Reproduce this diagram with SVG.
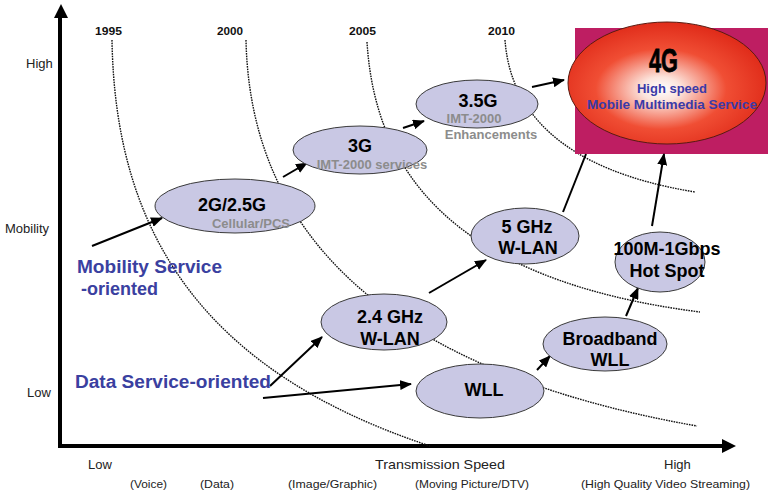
<svg xmlns="http://www.w3.org/2000/svg" width="770" height="494" viewBox="0 0 770 494">
<style>
.curve{fill:none;stroke:#111;stroke-width:1.4;stroke-dasharray:1.6 1}
.conn{fill:none;stroke:#000;stroke-width:2}
.node{fill:#c9c8e4;stroke:#3a3a3a;stroke-width:1}
.nt{font-family:"Liberation Sans",Arial,sans-serif;font-weight:bold;font-size:18px;fill:#000;text-anchor:middle}
.sub{font-family:"Liberation Sans",Arial,sans-serif;font-weight:bold;font-size:13px;fill:#8c8c8c;text-anchor:middle}
.blue{font-family:"Liberation Sans",Arial,sans-serif;font-weight:bold;font-size:18px;fill:#3a40a0}
.ax{font-family:"Liberation Sans",Arial,sans-serif;font-size:13px;fill:#222}
.yr{font-family:"Liberation Sans",Arial,sans-serif;font-weight:bold;font-size:11px;fill:#111}
.sm{font-family:"Liberation Sans",Arial,sans-serif;font-size:11px;fill:#222}
</style>
<defs>
<marker id="ah" markerUnits="userSpaceOnUse" markerWidth="12" markerHeight="10" refX="11" refY="5" orient="auto">
<path d="M0,0 L12,5 L0,10 z" fill="#000"/>
</marker>
<radialGradient id="red" cx="0.47" cy="0.55" r="0.55">
<stop offset="0" stop-color="#ffffff"/>
<stop offset="0.18" stop-color="#fce4dc"/>
<stop offset="0.6" stop-color="#f04e34"/>
<stop offset="1" stop-color="#e02c1a"/>
</radialGradient>
</defs>
<rect width="770" height="494" fill="#fff"/>

<g id="axes">
<line x1="60" y1="448" x2="60" y2="15" stroke="#000" stroke-width="4"/>
<polygon points="61,4 54,18 68,18" fill="#000"/>
<line x1="58" y1="446" x2="724" y2="446" stroke="#000" stroke-width="4"/>
<polygon points="736,446 722,439 722,453" fill="#000"/>
<text class="ax" x="26" y="68">High</text>
<text class="ax" x="5" y="233">Mobility</text>
<text class="ax" x="27" y="397">Low</text>
<text class="ax" x="88" y="469">Low</text>
<text class="ax" x="375" y="469" textLength="130" lengthAdjust="spacingAndGlyphs">Transmission Speed</text>
<text class="ax" x="664" y="469">High</text>
<text class="sm" x="130" y="488" textLength="37" lengthAdjust="spacingAndGlyphs">(Voice)</text>
<text class="sm" x="200" y="488" textLength="34" lengthAdjust="spacingAndGlyphs">(Data)</text>
<text class="sm" x="288" y="488" textLength="89" lengthAdjust="spacingAndGlyphs">(Image/Graphic)</text>
<text class="sm" x="415" y="488" textLength="114" lengthAdjust="spacingAndGlyphs">(Moving Picture/DTV)</text>
<text class="sm" x="581" y="488" textLength="169" lengthAdjust="spacingAndGlyphs">(High Quality Video Streaming)</text>
<text class="yr" x="95" y="35" textLength="27" lengthAdjust="spacingAndGlyphs">1995</text>
<text class="yr" x="217" y="35" textLength="26" lengthAdjust="spacingAndGlyphs">2000</text>
<text class="yr" x="349" y="35" textLength="27" lengthAdjust="spacingAndGlyphs">2005</text>
<text class="yr" x="488" y="35" textLength="27" lengthAdjust="spacingAndGlyphs">2010</text>
</g>

<g id="eras">
<path class="curve" d="M112,40 C115,230 200,370 430,446"/>
<path class="curve" d="M246,40 C250,230 380,370 697,426"/>
<path class="curve" d="M367,42 C375,170 450,280 700,312"/>
<path class="curve" d="M505,40 C510,110 560,170 695,192"/>
</g>

<g id="n4G">
<rect x="575" y="28" width="193" height="126" fill="#be1e62"/>
<ellipse cx="667" cy="83" rx="99" ry="61" fill="url(#red)" stroke="#5a1a10" stroke-width="1"/>
<text x="649" y="72" font-family="Liberation Sans,Arial,sans-serif" font-weight="bold" font-size="33" fill="#000" stroke="#000" stroke-width="0.8" textLength="29" lengthAdjust="spacingAndGlyphs">4G</text>
<text x="672" y="93" font-family="Liberation Sans,Arial,sans-serif" font-weight="bold" font-size="13" fill="#3a3aa8" text-anchor="middle">High speed</text>
<text x="672" y="109" font-family="Liberation Sans,Arial,sans-serif" font-weight="bold" font-size="13" fill="#3a3aa8" text-anchor="middle" textLength="170" lengthAdjust="spacingAndGlyphs">Mobile Multimedia Service</text>
</g>

<g id="connectors">
<line class="conn" x1="92" y1="246" x2="162" y2="218" marker-end="url(#ah)"/>
<line class="conn" x1="283" y1="177" x2="307" y2="163" marker-end="url(#ah)"/>
<line class="conn" x1="403" y1="128" x2="424" y2="121" marker-end="url(#ah)"/>
<line class="conn" x1="532" y1="87" x2="564" y2="80" marker-end="url(#ah)"/>
<line class="conn" x1="563" y1="212" x2="586" y2="154"/>
<line class="conn" x1="652" y1="226" x2="664" y2="154" marker-end="url(#ah)"/>
<line class="conn" x1="626" y1="316" x2="638" y2="288" marker-end="url(#ah)"/>
<line class="conn" x1="537" y1="370" x2="550" y2="356" marker-end="url(#ah)"/>
<line class="conn" x1="429" y1="293" x2="486" y2="260" marker-end="url(#ah)"/>
<line class="conn" x1="270" y1="386" x2="322" y2="337" marker-end="url(#ah)"/>
<line class="conn" x1="263" y1="398" x2="411" y2="384" marker-end="url(#ah)"/>
</g>

<g id="n2G">
<ellipse class="node" cx="235" cy="206" rx="80" ry="27"/>
<text class="nt" x="232" y="211" font-size="19">2G/2.5G</text>
<text class="sub" x="251" y="228" font-size="12">Cellular/PCS</text>
</g>
<g id="n3G">
<ellipse class="node" cx="360" cy="150" rx="67" ry="24"/>
<text class="nt" x="360" y="152" font-size="19">3G</text>
<text class="sub" x="372" y="169">IMT-2000 services</text>
</g>
<g id="n35G">
<ellipse class="node" cx="477" cy="104" rx="61" ry="24"/>
<text class="nt" x="478" y="107" font-size="19">3.5G</text>
<text class="sub" x="474" y="123">IMT-2000</text>
<text class="sub" x="491" y="139">Enhancements</text>
</g>
<g id="n5GHz">
<ellipse class="node" cx="525" cy="236" rx="54" ry="28"/>
<text class="nt" x="527" y="233" font-size="19">5 GHz</text>
<text class="nt" x="528" y="254" font-size="19">W-LAN</text>
</g>
<g id="nHotSpot">
<ellipse class="node" cx="660" cy="262" rx="45" ry="30"/>
<text class="nt" x="667" y="255">100M-1Gbps</text>
<text class="nt" x="667" y="277">Hot Spot</text>
</g>
<g id="n24GHz">
<ellipse class="node" cx="384" cy="322" rx="63" ry="28"/>
<text class="nt" x="390" y="323" font-size="19">2.4 GHz</text>
<text class="nt" x="390" y="345" font-size="19">W-LAN</text>
</g>
<g id="nWLL">
<ellipse class="node" cx="480" cy="391" rx="64" ry="27"/>
<text class="nt" x="484" y="396" font-size="19">WLL</text>
</g>
<g id="nBroadband">
<ellipse class="node" cx="605" cy="344" rx="62" ry="27"/>
<text class="nt" x="610" y="345">Broadband</text>
<text class="nt" x="610" y="366">WLL</text>
</g>

<g id="labels">
<text class="blue" x="77" y="273" textLength="145" lengthAdjust="spacingAndGlyphs">Mobility Service</text>
<text class="blue" x="81" y="295">-oriented</text>
<text class="blue" x="75" y="388" textLength="196" lengthAdjust="spacingAndGlyphs">Data Service-oriented</text>
</g>
</svg>
